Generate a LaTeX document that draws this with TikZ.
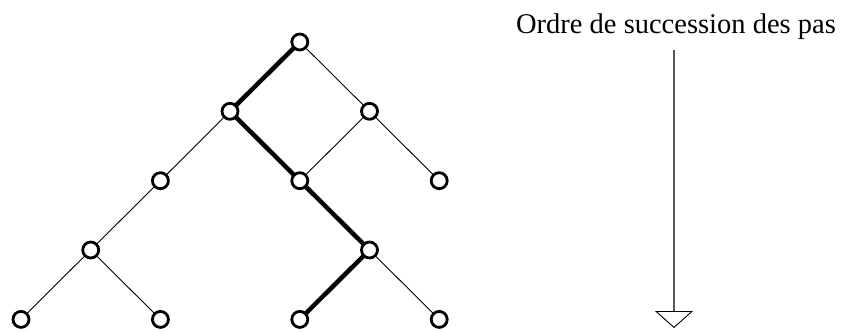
\documentclass[tikz,border=0pt]{standalone}
\usepackage{fontspec}
\setmainfont{Liberation Serif}
\usetikzlibrary{arrows.meta}
\begin{document}
\begin{tikzpicture}[x=1pt,y=-1pt,
  vtx/.style={circle,draw=black,fill=white,line width=2.8pt,minimum size=16pt,inner sep=0pt},
  thin edge/.style={line width=0.9pt},
  thick edge/.style={line width=4.5pt},
  lbl/.style={font=\fontsize{28.5}{32}\selectfont,inner sep=0pt}]
\useasboundingbox (0,0) rectangle (844,332);
% coordinates
\def\xa{21}\def\xb{90.7}\def\xc{160.4}\def\xd{230}\def\xe{299.8}\def\xf{369.5}\def\xg{439.2}
\def\ya{42}\def\yb{111.3}\def\yc{180.7}\def\yd{250}\def\ye{319.4}
\coordinate (pa) at (\xe,\ya);
\coordinate (pb1) at (\xd,\yb);
\coordinate (pb2) at (\xf,\yb);
\coordinate (pc1) at (\xc,\yc);
\coordinate (pc2) at (\xe,\yc);
\coordinate (pc3) at (\xg,\yc);
\coordinate (pd1) at (\xb,\yd);
\coordinate (pd2) at (\xf,\yd);
\coordinate (pe1) at (\xa,\ye);
\coordinate (pe2) at (\xc,\ye);
\coordinate (pe3) at (\xe,\ye);
\coordinate (pe4) at (\xg,\ye);
% edges
\draw[thick edge] (pa) -- (pb1);
\draw[thin edge] (pa) -- (pb2);
\draw[thin edge] (pb1) -- (pc1);
\draw[thick edge] (pb1) -- (pc2);
\draw[thin edge] (pb2) -- (pc2);
\draw[thin edge] (pb2) -- (pc3);
\draw[thin edge] (pc1) -- (pd1);
\draw[thick edge] (pc2) -- (pd2);
\draw[thin edge] (pd1) -- (pe1);
\draw[thin edge] (pd1) -- (pe2);
\draw[thick edge] (pd2) -- (pe3);
\draw[thin edge] (pd2) -- (pe4);
% vertices
\foreach \p in {pa,pb1,pb2,pc1,pc2,pc3,pd1,pd2,pe1,pe2,pe3,pe4}
  \node[vtx] (n\p) at (\p) {};
% label and arrow
\node[lbl,anchor=base] (title) at (676,33.5) {Ordre de succession des pas};
\coordinate (astart) at (674,50);
\coordinate (aend) at (674,328);
\draw[line width=1.1pt,black!65,-{Triangle[open,width=38pt,length=17pt,line width=0.9pt,fill=white,black]}] (astart) -- (aend);
\end{tikzpicture}
\end{document}
